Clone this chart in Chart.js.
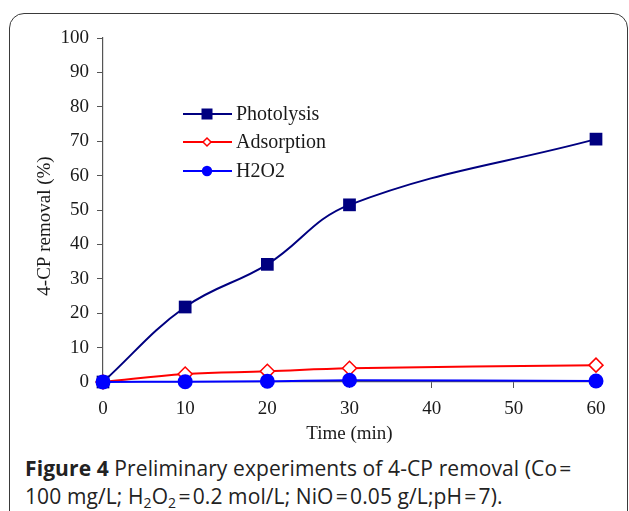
<!DOCTYPE html>
<html>
<head>
<meta charset="utf-8">
<script src="https://cdn.jsdelivr.net/npm/chart.js@4/dist/chart.umd.min.js"></script>
<style>
  html, body { margin: 0; padding: 0; background: #fff; }
  #wrap { position: relative; width: 629px; height: 511px; overflow: hidden; }
  #frame { position: absolute; left: 9px; top: 13px; width: 619px; height: 540px;
           border: 1.5px solid #3a3a3a; border-radius: 15px; box-sizing: border-box; }
  #cv { position: absolute; left: 0; top: 0; }
  #caption { position: absolute; left: 25px; top: 454px; width: 604px;
             font-family: "Open Sans", "Noto Sans", sans-serif; font-size: 21px;
             line-height: 28px; color: #222; letter-spacing: 0.1px; white-space: nowrap; }
  #caption b { font-weight: 700; }
  sub { font-size: 14px; vertical-align: -4px; line-height: 0; }
</style>
</head>
<body>
<div id="wrap">
  <div id="frame"></div>
  <canvas id="cv" width="629" height="450"></canvas>
  <div id="caption"><b>Figure 4</b> Preliminary experiments of 4-CP removal (Co&#8202;=<br>100 mg/L; H<sub>2</sub>O<sub>2</sub>&#8202;=&#8202;0.2 mol/L; NiO&#8202;=&#8202;0.05 g/L;pH&#8202;=&#8202;7).</div>
</div>
<script>
const times = [0, 10, 20, 30, 60];
const photolysis = [0, 21.8, 34.2, 51.5, 70.6];
const adsorption = [0, 2.3, 3.1, 4.0, 4.9];
const h2o2 = [0, 0.1, 0.2, 0.5, 0.3];
const seriesNames = ['Photolysis', 'Adsorption', 'H2O2'];
const xTitle = 'Time (min)';
const yTitle = '4-CP removal (%)';

const toPts = arr => times.map((t, i) => ({x: t, y: arr[i]}));
const serif = '"Liberation Serif", "Times New Roman", serif';
const axisColor = '#555';
const textColor = '#1a1a1a';

const legendPlugin = {
  id: 'innerLegend',
  afterDatasetsDraw(chart) {
    const ctx = chart.ctx;
    const rows = [114, 142, 171];
    chart.data.datasets.forEach((ds, i) => {
      const y = rows[i];
      ctx.save();
      ctx.strokeStyle = ds.borderColor;
      ctx.lineWidth = 2;
      ctx.beginPath(); ctx.moveTo(183, y); ctx.lineTo(232, y); ctx.stroke();
      const cx = 207;
      if (ds.pointStyle === 'rect') {
        ctx.fillStyle = ds.borderColor;
        ctx.fillRect(cx - 5.5, y - 5.5, 11, 11);
      } else if (ds.pointStyle === 'rectRot') {
        ctx.fillStyle = '#fff'; ctx.lineWidth = 1.5;
        ctx.beginPath();
        ctx.moveTo(cx, y - 4); ctx.lineTo(cx + 4, y); ctx.lineTo(cx, y + 4); ctx.lineTo(cx - 4, y); ctx.closePath();
        ctx.fill(); ctx.stroke();
      } else {
        ctx.fillStyle = ds.borderColor;
        ctx.beginPath(); ctx.arc(cx, y, 5.2, 0, Math.PI * 2); ctx.fill();
      }
      ctx.fillStyle = textColor;
      ctx.font = '20px ' + serif;
      ctx.textBaseline = 'middle';
      ctx.textAlign = 'left';
      ctx.fillText(ds.label, 236, y + 1);
      ctx.restore();
    });
  }
};

const yTitlePlugin = {
  id: 'yTitle',
  afterDraw(chart) {
    const ctx = chart.ctx;
    ctx.save();
    ctx.translate(45, 226);
    ctx.rotate(-Math.PI / 2);
    ctx.fillStyle = textColor;
    ctx.font = '19px ' + serif;
    ctx.textAlign = 'center';
    ctx.textBaseline = 'middle';
    ctx.fillText(yTitle, 0, 0);
    ctx.restore();
  }
};

new Chart(document.getElementById('cv'), {
  type: 'line',
  data: {
    datasets: [
      { label: seriesNames[0], data: toPts(photolysis), borderColor: '#000080', backgroundColor: '#000080',
        pointStyle: 'rect', pointRadius: 9, pointBorderWidth: 0, borderWidth: 2, tension: 0.4, order: 2, clip: false },
      { label: seriesNames[1], data: toPts(adsorption), borderColor: '#ff0000', backgroundColor: '#ffffff',
        pointStyle: 'rectRot', pointRadius: 7, pointBorderWidth: 1.5, borderWidth: 2, tension: 0.4, order: 1, clip: false },
      { label: seriesNames[2], data: toPts(h2o2), borderColor: '#0000ff', backgroundColor: '#0000ff',
        pointStyle: 'circle', pointRadius: 7.5, pointBorderWidth: 0, borderWidth: 2, tension: 0.4, order: 0, clip: false }
    ]
  },
  options: {
    responsive: false,
    animation: false,
    layout: { padding: { left: 35, top: 38, right: 33, bottom: 5 } },
    plugins: { legend: { display: false }, tooltip: { enabled: false } },
    scales: {
      x: {
        type: 'linear', min: 0, max: 60,
        afterFit: s => { s.height = 63; },
        grid: { drawOnChartArea: false, drawTicks: true, tickLength: 6, color: axisColor },
        border: { color: axisColor, width: 1.2 },
        ticks: { stepSize: 10, padding: 10, color: textColor, font: { family: serif, size: 19 } },
        title: { display: true, text: xTitle, color: textColor, padding: 0, font: { family: serif, size: 19 } }
      },
      y: {
        min: 0, max: 100,
        afterFit: s => { s.width = 68; },
        grid: { drawOnChartArea: false, drawTicks: true, tickLength: 6, color: axisColor },
        border: { color: axisColor, width: 1.2 },
        ticks: { stepSize: 10, padding: 8, color: textColor, font: { family: serif, size: 19 } },
        title: { display: false }
      }
    }
  },
  plugins: [legendPlugin, yTitlePlugin]
});
</script>
</body>
</html>
